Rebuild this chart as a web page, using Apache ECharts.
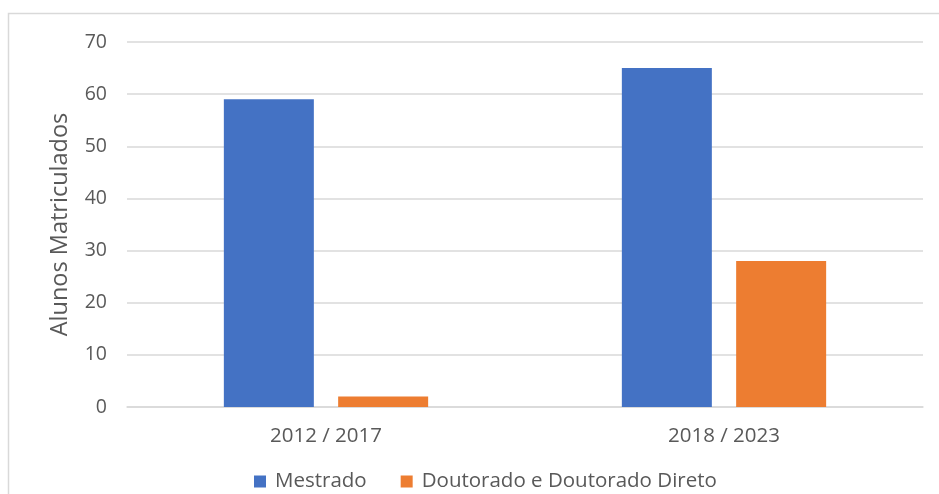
<!DOCTYPE html>
<html><head><meta charset="utf-8">
<script src="https://cdn.jsdelivr.net/npm/echarts@6/dist/echarts.min.js"></script>
<style>html,body{margin:0;padding:0;background:#fff}#c{width:939px;height:494px}</style>
</head><body><div id="c"></div>
<script>
const categories = ['2012 / 2017', '2018 / 2023'];
const mestrado = [59, 65];
const doutorado = [2, 28];
const seriesNames = ['Mestrado', 'Doutorado e Doutorado Direto'];
const yTicks = {min: 0, max: 70, interval: 10};

const chart = echarts.init(document.getElementById('c'), null, {renderer: 'canvas'});
const font = '"Open Sans", sans-serif';
chart.setOption({
  animation: false,
  graphic: [{type: 'rect', shape: {x: 8.5, y: 13.5, width: 1000, height: 1000}, style: {fill: 'none', stroke: '#d9d9d9', lineWidth: 1.5}, silent: true}],
  grid: {left: 127, right: 16, top: 42, bottom: 87, containLabel: false},
  legend: {
    data: seriesNames, bottom: -3, left: 249, itemWidth: 12, itemHeight: 12, itemGap: 34,
    icon: 'rect', textStyle: {color: '#595959', fontSize: 20.5, fontFamily: font, padding: [0, 0, 0, 4]}
  },
  xAxis: {
    type: 'category', data: categories,
    axisLine: {lineStyle: {color: '#d9d9d9', width: 1.5}},
    axisTick: {show: false},
    axisLabel: {color: '#595959', fontSize: 20.5, fontFamily: font, margin: 19}
  },
  yAxis: {
    type: 'value', min: yTicks.min, max: yTicks.max, interval: yTicks.interval,
    name: 'Alunos Matriculados', nameLocation: 'middle', nameGap: 55, nameRotate: 90,
    nameTextStyle: {color: '#595959', fontSize: 23.5, fontFamily: font},
    axisLine: {show: false}, axisTick: {show: false},
    axisLabel: {color: '#595959', fontSize: 19.5, fontFamily: font, margin: 20},
    splitLine: {lineStyle: {color: '#d9d9d9', width: 1.5}}
  },
  series: [
    {name: seriesNames[0], type: 'bar', data: mestrado, barWidth: 90, barGap: '27%', itemStyle: {color: '#4472c4'}},
    {name: seriesNames[1], type: 'bar', data: doutorado, barWidth: 90, barGap: '27%', itemStyle: {color: '#ed7d31'}}
  ]
});
</script></body></html>
